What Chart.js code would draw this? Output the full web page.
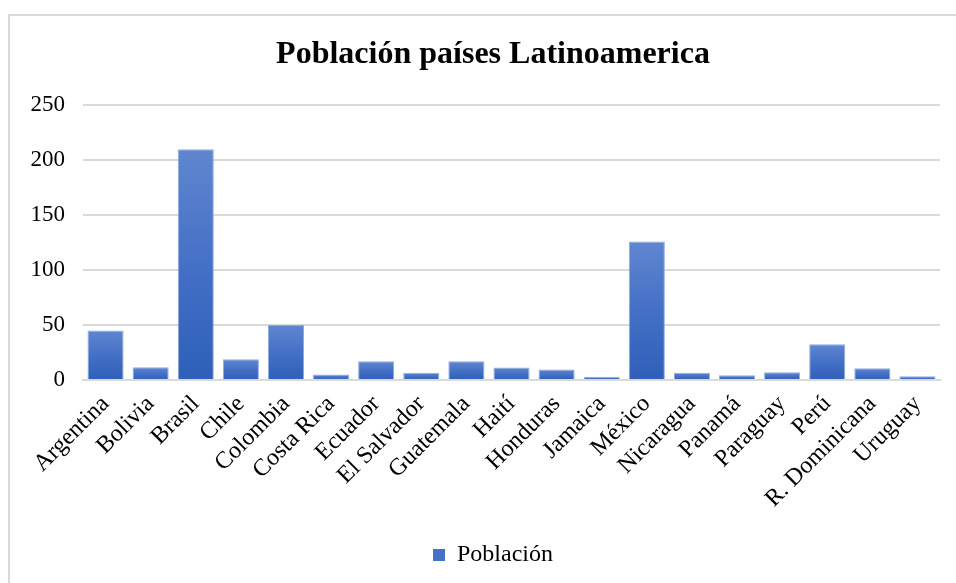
<!DOCTYPE html>
<html>
<head>
<meta charset="utf-8">
<script src="https://cdn.jsdelivr.net/npm/chart.js@4.4.1/dist/chart.umd.min.js"></script>
<style>
  html, body { margin: 0; padding: 0; background: #fff; overflow: hidden; }
  #marco { position: absolute; left: 8px; top: 14px; width: 1000px; height: 620px;
           border-top: 2px solid #d9d9d9; border-left: 2px solid #d9d9d9; }
  #wrap { position: absolute; left: 0; top: 0; width: 956px; height: 583px; }
</style>
</head>
<body>
<div id="marco"></div>
<div id="wrap"><canvas id="grafico"></canvas></div>
<script>
// Población (millones) por país
const paises = ['Argentina', 'Bolivia', 'Brasil', 'Chile', 'Colombia', 'Costa Rica', 'Ecuador',
  'El Salvador', 'Guatemala', 'Haití', 'Honduras', 'Jamaica', 'México', 'Nicaragua', 'Panamá',
  'Paraguay', 'Perú', 'R. Dominicana', 'Uruguay'];
const poblacion = [45, 11.5, 210, 19, 50, 5, 17, 6.5, 17, 11.3, 9.5, 3, 126, 6.6, 4.3, 7, 32.5, 10.8, 3.5];
const ticksY = [0, 50, 100, 150, 200, 250];

const fuente = "'Liberation Serif', 'Times New Roman', serif";
Chart.defaults.font.family = fuente;
Chart.defaults.color = '#000';

// degradado vertical dentro de cada barra
function rellenoBarra(ctx) {
  const chart = ctx.chart;
  const y = chart.scales.y;
  if (!chart.chartArea || ctx.dataIndex === undefined || !y) return '#4472c4';
  const top = y.getPixelForValue(ctx.raw);
  const base = y.getPixelForValue(0);
  if (!isFinite(top) || !isFinite(base) || base - top < 1) return '#3a68c0';
  const g = chart.ctx.createLinearGradient(0, top, 0, base);
  g.addColorStop(0, '#6086cf');
  g.addColorStop(0.5, '#4470c6');
  g.addColorStop(1, '#2f5fb9');
  return g;
}

// título y leyenda centrados un poco a la derecha del borde izquierdo
const desplazarCajas = {
  id: 'desplazarCajas',
  afterLayout(chart) {
    [chart.titleBlock, chart.legend].forEach(b => {
      if (!b) return;
      b.left = 46;
      b.width = b.right - b.left;
    });
  }
};

new Chart(document.getElementById('grafico'), {
  type: 'bar',
  data: {
    labels: paises,
    datasets: [{
      label: 'Población',
      data: poblacion,
      backgroundColor: rellenoBarra,
      borderColor: '#8eaadf',
      borderWidth: 1,
      categoryPercentage: 0.8,
      barPercentage: 1.0
    }]
  },
  plugins: [desplazarCajas],
  options: {
    responsive: true,
    maintainAspectRatio: false,
    animation: false,
    layout: { padding: { top: 16, right: 16, left: 0, bottom: 6 } },
    plugins: {
      title: {
        display: true,
        text: 'Población países Latinoamerica',
        color: '#000',
        font: { family: fuente, size: 32, weight: 'bold' },
        padding: { top: 20, bottom: 31 }
      },
      legend: {
        position: 'bottom',
        labels: {
          color: '#000',
          font: { family: fuente, size: 24 },
          boxWidth: 12,
          boxHeight: 12,
          generateLabels: () => [{
            text: 'Población',
            fillStyle: '#4472c4',
            strokeStyle: '#4472c4',
            lineWidth: 0,
            datasetIndex: 0,
            fontColor: '#000'
          }]
        }
      },
      tooltip: { enabled: false }
    },
    scales: {
      x: {
        grid: { display: false },
        border: { display: true, color: '#d9d9d9', width: 2 },
        ticks: {
          color: '#000',
          font: { family: fuente, size: 24 },
          minRotation: 45,
          maxRotation: 45,
          autoSkip: false,
          padding: 2
        },
        afterFit: (s) => { s.height = 153; }
      },
      y: {
        min: 0,
        max: 250,
        afterBuildTicks: (s) => { s.ticks = ticksY.map(v => ({ value: v })); },
        grid: { color: '#d9d9d9', lineWidth: 2, drawTicks: false },
        border: { display: false },
        ticks: {
          color: '#000',
          font: { family: fuente, size: 23 },
          padding: 18
        },
        afterFit: (s) => { s.width = 83; }
      }
    }
  }
});
</script>
</body>
</html>
